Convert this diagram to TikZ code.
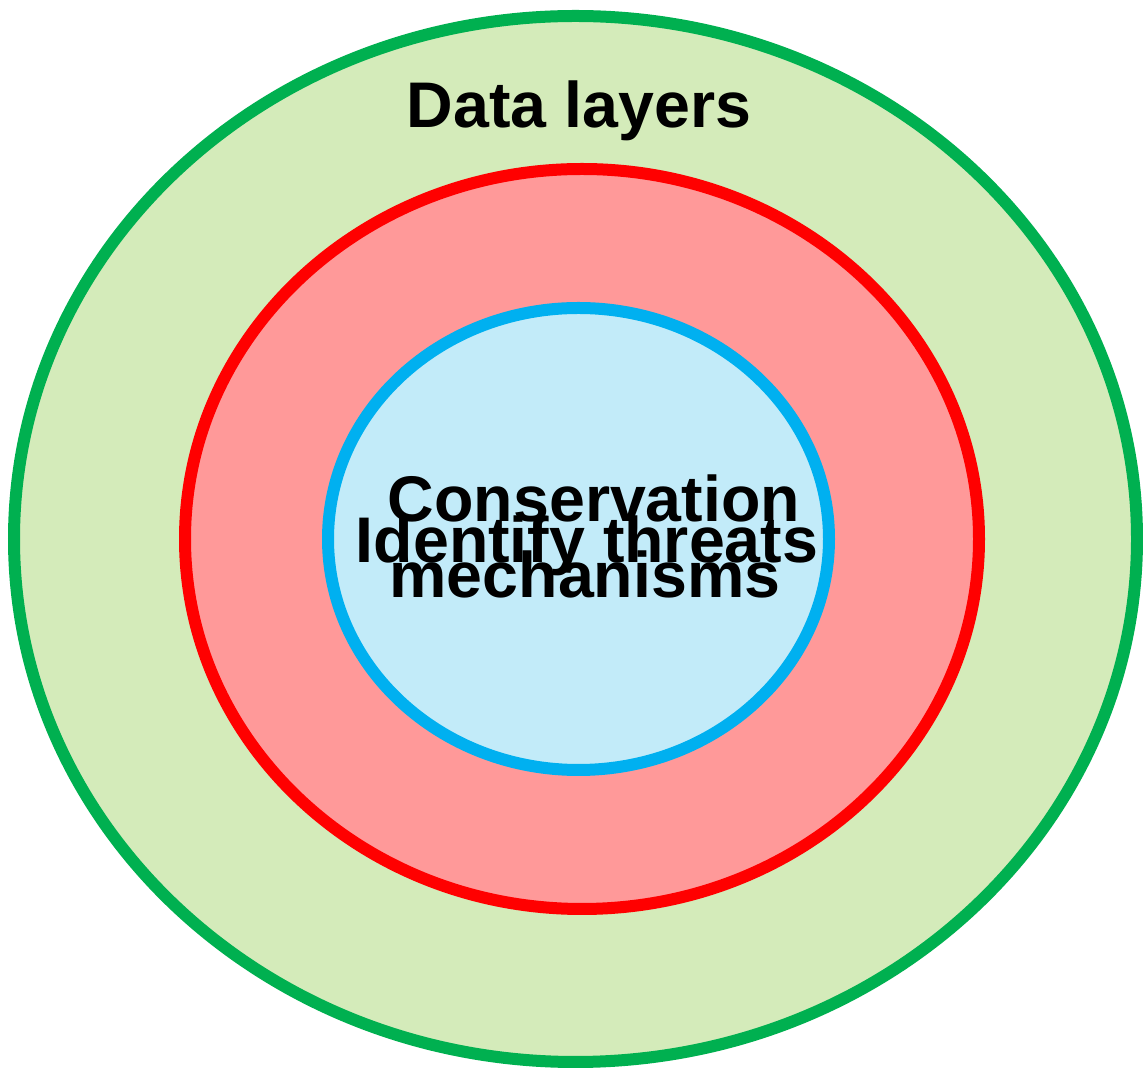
\documentclass[tikz,border=0pt]{standalone}
\usepackage{fontspec}
\setmainfont{Liberation Sans}
\definecolor{outerline}{HTML}{00B050}
\definecolor{outerfill}{HTML}{D4EBBA}
\definecolor{midline}{HTML}{FF0000}
\definecolor{midfill}{HTML}{FF9999}
\definecolor{innerline}{HTML}{00B0F0}
\definecolor{innerfill}{HTML}{C2EBF9}
\tikzset{
  ring/.style={line width=12bp},
  lbl/.style={inner sep=0pt, anchor=base, text=black, font=\fontsize{64.5bp}{64.5bp}\selectfont\bfseries}
}
\begin{document}
\begin{tikzpicture}[x=1bp,y=1bp]
\useasboundingbox (0,0) rectangle (1143,1070);
% nested layers
\draw[ring, draw=outerline, fill=outerfill] (575.5,531) ellipse [x radius=561.5, y radius=523];
\draw[ring, draw=midline, fill=midfill] (582,531) ellipse [x radius=397, y radius=370];
\draw[ring, draw=innerline, fill=innerfill] (578.5,531) ellipse [x radius=250.5, y radius=231];
% labels
\node[lbl] (data) at (579,942) {Data layers};
\node[lbl] (cons) at (594,548) {Conservation};
\node[lbl] (threat) at (587,507) {Identify threats};
\node[lbl] (mech) at (585,472) {mechanisms};
\end{tikzpicture}
\end{document}
